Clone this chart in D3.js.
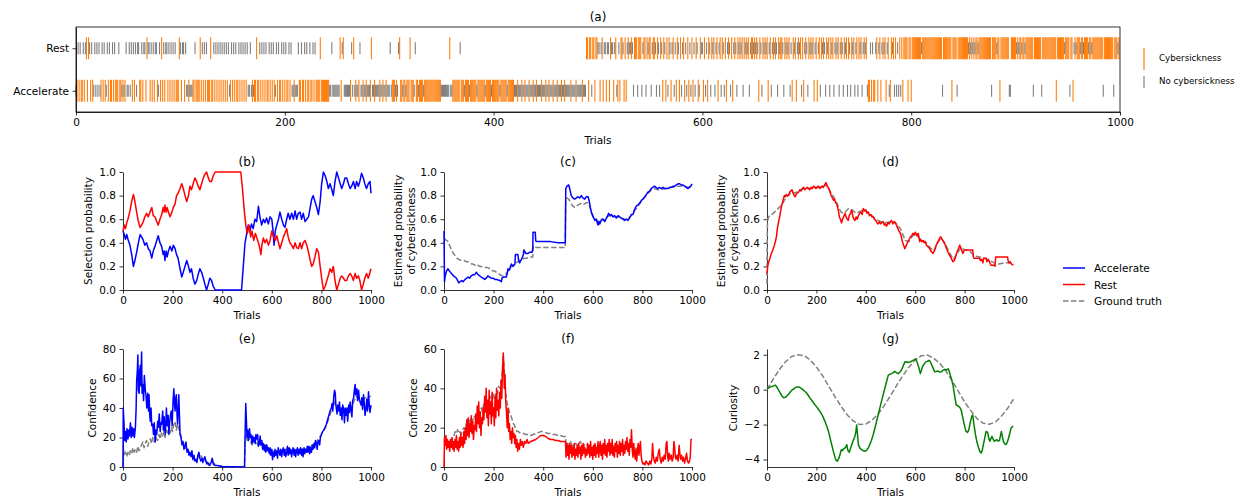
<!DOCTYPE html>
<html lang="en">
<head>
<meta charset="UTF-8">
<title>Cybersickness bandit</title>
<script src="https://cdn.jsdelivr.net/npm/d3@7"></script>
<style>
  body { margin: 0; background: #fff; }
  svg { display: block; }
</style>
</head>
<body>
<script>
// ---------- data ----------
const trialTicks = [0, 200, 400, 600, 800, 1000];
const rows = ["Rest", "Accelerate"];

// one char per trial: R/r = Rest (cybersickness / none), A/a = Accelerate (cybersickness / none)
const trialOutcomes = [
  "aArArAArAr RARrArAara raraArArAa rArAArArAA ArAAaAaAra",
  "ararArArar rAArArrARr rArArArrAa rARArArrAr ArArArAAAR",
  "rArrAraaAa aaAArAAAAR ArArArAAAR AArArArArA rArArAraAr",
  "ArArAArArA rArAraaraA aAARAArArA rArAArArAr AarArAArAr",
  "ArAArAraaA aaarAArAAr ArAArAArAr AAAARAAAAA AAAaaraaaa",
  "aaaRArRaaa aaaAraRaAa aAraaAaaAa aaARaaAaaa aAaaAaaAaa",
  "araAAAaAar RAAaAAaAAA RAAAarAAaA AAAaAAAAAA AAAAAAAAAA",
  "aaaaaaaaRa aAAAAAAArA AAaAAAAaAA AAAAaAAAAA AAaAAAAAaA",
  "AAAAAAaAAA AAAaAAAAAA aaaAaaaAaa AaaaAaaaAa aAaaaaAaaa",
  "AaaAaaaAaa aAaaaAaaAa aaaaAaaaaA aaaaaAaaaR RARRaRRARR",
  "rrArRArrAr rARrrArRaA rARRrARArR rrRraRRRaR RRarRRaRrR",
  "RarRRraRra RrARrARaRr ArRarARrAR arRAraRAra RAraRrAaRr",
  "rARarARraR rRarRArRaR raRArRraRA rRraRrRrRa RrRrRarRRr",
  "RrRrARraRr RrRArRarRr RraRrRRraR rRrRarARrR ArRrRaRArR",
  "raRrRrRArR ArRaRrRraR rRaRrRarRr RarRraRrRa RraRrRarRa",
  "RrRarRrRaA ArArAArRAr RArRrRArRa ARrRaRaraR aRARRRRARR",
  "ARRRRRRRRR rRRRRRRRRR RRRRRRRRRR aRRRRRRRRA RRRRaRRRRR",
  "RRRRRrRrRr RrRRrRRRRR RRRRRRRaRR RRrRRARRRR RRRRaaRRRR",
  "RrRrRRrRRr RRRRRRRaRR RRRRRaRRRR RRRRRRRRRA RRRRRRRrRR",
  "RRaRRArRrR RRrRRrRRRR rRRrRRRRRR RRRRaRRRRR RRRRaRRRrR"
];

// (b) selection probability
const bAccel = [[0,.5],[5,.47],[10,.43],[15,.47],[20,.43],[28,.38],[35,.3],[42,.2],[48,.25],[55,.32],[62,.4],[69,.47],[75,.45],[82,.42],[88,.38],[95,.4],[102,.35],[109,.33],[116,.27],[122,.33],[129,.37],[136,.42],[142,.46],[149,.4],[156,.37],[162,.3],[166,.33],[169,.25],[174,.33],[178,.28],[183,.33],[190,.37],[197,.33],[203,.38],[210,.35],[216,.3],[222,.27],[230,.18],[237,.11],[243,.15],[250,.2],[257,.25],[264,.2],[270,.15],[276,.18],[283,.1],[290,.05],[297,.08],[303,.13],[310,.18],[317,.15],[324,.1],[330,.05],[337,0],[344,.05],[350,.1],[357,.08],[364,.03],[372,0],[478,0],[485,.2],[492,.4],[499,.48],[505,.55],[512,.5],[518,.56],[525,.52],[532,.6],[539,.58],[546,.71],[552,.62],[559,.55],[566,.6],[572,.57],[579,.61],[586,.56],[593,.62],[600,.6],[605,.5],[609,.38],[614,.5],[620,.55],[627,.6],[633,.66],[640,.6],[647,.55],[653,.53],[660,.6],[666,.65],[673,.6],[680,.65],[687,.6],[694,.67],[700,.6],[707,.65],[714,.66],[720,.6],[727,.65],[734,.58],[741,.6],[748,.62],[755,.7],[761,.77],[767,.8],[774,.75],[781,.7],[788,.64],[795,.75],[801,.9],[808,1],[815,.97],[822,.92],[828,.86],[835,.9],[842,.85],[848,.8],[855,.92],[862,1],[869,.95],[876,.9],[882,.86],[889,.9],[895,.95],[902,.95],[909,.9],[916,.86],[922,.88],[929,.92],[936,.86],[942,.92],[949,.88],[955,.92],[962,.99],[969,.95],[975,.9],[982,.86],[989,.9],[996,.92],[1000,.82]];
const bRest = [[0,.5],[5,.55],[10,.52],[15,.57],[20,.6],[28,.67],[35,.75],[42,.81],[48,.75],[55,.66],[62,.58],[69,.53],[75,.55],[82,.58],[88,.62],[95,.65],[102,.62],[109,.66],[116,.7],[122,.63],[129,.62],[136,.58],[142,.55],[149,.6],[156,.64],[162,.7],[166,.66],[169,.72],[174,.66],[178,.7],[183,.66],[190,.62],[197,.66],[203,.7],[210,.73],[216,.8],[222,.82],[230,.86],[237,.9],[243,.86],[250,.8],[257,.75],[264,.8],[270,.88],[276,.85],[283,.9],[290,.95],[297,.92],[303,.88],[310,.85],[317,.9],[324,.95],[330,.98],[337,1],[344,.95],[350,.92],[357,.92],[364,.97],[372,1],[475,1],[482,.85],[490,.65],[497,.52],[502,.48],[508,.55],[515,.45],[520,.5],[527,.42],[534,.48],[540,.44],[546,.4],[552,.35],[556,.3],[560,.38],[566,.44],[572,.4],[579,.43],[586,.38],[593,.42],[600,.5],[607,.45],[614,.42],[620,.46],[627,.4],[633,.35],[640,.4],[647,.45],[653,.48],[660,.52],[666,.45],[673,.4],[680,.38],[687,.35],[694,.4],[700,.36],[707,.35],[714,.4],[720,.35],[727,.4],[734,.42],[741,.38],[748,.32],[755,.25],[761,.2],[767,.22],[774,.28],[781,.35],[788,.32],[795,.2],[801,.1],[808,0],[815,.03],[822,.08],[828,.12],[835,.18],[842,.15],[848,.2],[855,.08],[862,0],[869,.05],[876,.1],[882,.12],[889,.1],[895,.08],[902,.08],[909,.12],[916,.14],[922,.12],[929,.08],[936,.14],[942,.1],[949,.12],[955,.08],[962,0],[969,.05],[975,.1],[982,.14],[989,.1],[996,.15],[1000,.18]];

// (c) estimated probability, Accelerate
const cAccel = [[0,.5],[2,.07],[5,.12],[10,.16],[16,.18],[22,.16],[30,.14],[38,.12],[45,.11],[50,.1],[55,.08],[59,.06],[65,.07],[72,.08],[77,.07],[85,.09],[92,.1],[97,.11],[104,.1],[110,.12],[117,.13],[124,.13],[130,.15],[137,.13],[144,.12],[150,.11],[157,.1],[164,.09],[170,.1],[177,.12],[184,.11],[191,.1],[198,.1],[205,.09],[212,.09],[218,.085],[225,.08],[231,.07],[234,.1],[240,.11],[251,.11],[255,.14],[258,.18],[264,.17],[268,.2],[272,.22],[278,.2],[282,.21],[286,.22],[288,.3],[298,.3],[301,.25],[305,.23],[310,.25],[315,.27],[320,.3],[322,.34],[325,.33],[330,.31],[339,.31],[345,.32],[355,.32],[358,.35],[359,.49],[368,.49],[370,.42],[372,.41],[406,.41],[430,.41],[460,.4],[487,.4],[489,.4],[491,.86],[496,.88],[503,.89],[508,.85],[513,.8],[520,.78],[527,.77],[534,.78],[540,.79],[547,.78],[554,.8],[560,.78],[567,.77],[574,.79],[581,.79],[586,.75],[590,.7],[594,.66],[600,.63],[608,.59],[614,.6],[618,.57],[621,.55],[625,.58],[628,.56],[634,.59],[641,.6],[648,.58],[655,.61],[660,.63],[664,.65],[670,.63],[675,.64],[681,.62],[688,.63],[695,.61],[702,.63],[708,.62],[715,.61],[722,.6],[728,.59],[735,.6],[742,.59],[748,.61],[755,.64],[762,.64],[768,.68],[775,.71],[782,.72],[790,.74],[796,.76],[802,.77],[810,.79],[816,.81],[823,.83],[830,.84],[836,.86],[842,.87],[849,.88],[855,.87],[862,.86],[869,.87],[876,.86],[883,.87],[890,.86],[897,.86],[903,.86],[910,.87],[917,.87],[924,.88],[930,.88],[937,.89],[944,.9],[950,.9],[957,.89],[964,.89],[970,.88],[977,.87],[984,.86],[990,.87],[995,.88],[1000,.9]];
const cTruth = [[0,.44],[5,.43],[10,.42],[16,.41],[22,.38],[30,.34],[38,.31],[45,.29],[52,.27],[59,.26],[70,.25],[80,.25],[90,.24],[97,.24],[105,.23],[112,.22],[117,.22],[124,.21],[130,.22],[136,.21],[144,.2],[150,.2],[160,.19],[170,.19],[177,.19],[185,.18],[192,.17],[198,.16],[205,.16],[212,.15],[218,.14],[226,.13],[232,.12],[238,.12],[245,.13],[251,.14],[258,.16],[265,.18],[272,.2],[280,.21],[290,.23],[298,.24],[305,.25],[315,.26],[325,.27],[335,.27],[345,.28],[355,.28],[358,.28],[359,.37],[365,.37],[372,.36],[400,.36],[440,.36],[487,.36],[489,.36],[491,.76],[496,.78],[503,.77],[508,.75],[513,.73],[520,.71],[527,.7],[534,.71],[540,.72],[547,.73],[554,.73],[560,.72],[567,.73],[574,.74],[581,.74],[586,.72],[590,.69],[594,.66],[600,.62],[608,.6],[614,.6],[621,.58],[628,.58],[634,.6],[641,.6],[648,.59],[655,.61],[664,.63],[675,.63],[688,.62],[702,.62],[715,.61],[728,.6],[742,.6],[755,.63],[768,.67],[782,.71],[796,.75],[810,.79],[823,.82],[836,.85],[849,.86],[862,.85],[876,.85],[890,.86],[903,.86],[917,.87],[930,.87],[944,.88],[957,.88],[970,.88],[984,.87],[1000,.89]];

// (d) estimated probability, Rest
const dRest = [[0,.14],[3,.2],[7,.24],[12,.27],[16,.3],[20,.32],[25,.35],[30,.38],[34,.41],[38,.45],[42,.52],[47,.58],[52,.63],[56,.68],[60,.72],[65,.76],[70,.8],[74,.79],[78,.81],[82,.8],[87,.8],[92,.83],[97,.84],[101,.85],[106,.82],[110,.8],[114,.79],[118,.81],[122,.82],[128,.83],[133,.85],[138,.84],[143,.86],[148,.87],[153,.85],[158,.86],[163,.87],[168,.86],[173,.85],[178,.87],[183,.86],[188,.88],[193,.87],[198,.86],[203,.87],[208,.88],[213,.86],[218,.87],[223,.88],[228,.87],[233,.89],[239,.91],[244,.88],[250,.86],[255,.83],[260,.8],[265,.78],[269,.76],[273,.77],[278,.74],[282,.73],[286,.7],[290,.66],[293,.62],[297,.6],[302,.57],[306,.6],[310,.62],[316,.65],[320,.62],[325,.6],[329,.59],[333,.63],[338,.65],[343,.68],[348,.62],[352,.6],[356,.59],[361,.62],[365,.6],[370,.63],[375,.65],[380,.66],[385,.64],[390,.69],[395,.67],[400,.68],[405,.65],[410,.66],[415,.63],[420,.64],[425,.62],[430,.62],[435,.6],[440,.59],[445,.57],[450,.56],[455,.58],[460,.56],[465,.57],[470,.58],[475,.55],[480,.56],[484,.54],[490,.57],[495,.56],[500,.58],[504,.59],[510,.56],[515,.58],[520,.57],[524,.55],[530,.52],[534,.5],[538,.49],[543,.46],[548,.41],[553,.38],[558,.35],[562,.37],[566,.39],[571,.41],[576,.43],[581,.45],[586,.46],[591,.48],[596,.47],[601,.49],[606,.46],[612,.48],[615,.45],[618,.41],[622,.43],[627,.41],[632,.42],[636,.4],[641,.41],[645,.38],[650,.37],[655,.36],[659,.35],[663,.33],[668,.32],[672,.31],[677,.33],[681,.35],[685,.38],[690,.4],[695,.42],[699,.44],[704,.45],[708,.43],[712,.42],[717,.4],[722,.38],[727,.35],[733,.32],[738,.3],[743,.28],[748,.26],[753,.24],[758,.25],[762,.27],[766,.3],[771,.33],[775,.35],[780,.38],[784,.36],[788,.34],[793,.31],[797,.33],[802,.34],[806,.34],[833,.34],[835,.28],[838,.27],[860,.27],[864,.25],[868,.26],[874,.23],[877,.27],[887,.27],[890,.24],[896,.26],[900,.24],[907,.21],[921,.21],[923,.2],[926,.28],[974,.28],[976,.25],[980,.23],[984,.24],[990,.22],[997,.21]];
const dTruth = [[0,.05],[1,.45],[2,.58],[5,.61],[10,.63],[20,.64],[30,.66],[40,.68],[50,.7],[60,.72],[70,.76],[80,.79],[90,.81],[100,.83],[110,.82],[120,.83],[130,.84],[140,.85],[150,.86],[160,.86],[170,.86],[180,.86],[190,.87],[200,.87],[210,.87],[220,.87],[230,.88],[240,.89],[250,.86],[260,.82],[270,.79],[280,.75],[290,.7],[300,.66],[310,.65],[320,.67],[330,.69],[340,.68],[350,.67],[360,.65],[370,.66],[380,.67],[390,.68],[400,.67],[420,.64],[440,.6],[460,.58],[480,.57],[500,.58],[520,.57],[540,.52],[560,.42],[575,.41],[590,.46],[605,.47],[620,.43],[640,.41],[660,.36],[675,.33],[690,.4],[705,.44],[720,.4],[740,.31],[755,.26],[770,.31],[785,.36],[800,.34],[820,.33],[840,.29],[860,.28],[880,.27],[900,.25],[920,.23],[940,.22],[960,.23],[980,.23],[1000,.22]];

// (e) confidence, Accelerate
const eAccel = [[0,0],[1,40],[4,30],[7,18],[10,24],[13,17],[16,26],[20,19],[23,25],[26,21],[30,30],[33,20],[36,27],[40,21],[43,26],[46,20],[50,27],[53,40],[55,58],[58,66],[60,76],[62,52],[65,50],[67,65],[70,69],[72,55],[75,78],[77,50],[80,56],[83,45],[86,62],[90,52],[93,48],[96,40],[100,50],[103,38],[105,49],[108,35],[110,31],[113,40],[116,28],[120,29],[123,22],[126,30],[130,17],[133,25],[136,22],[140,31],[143,27],[146,36],[150,24],[153,30],[156,29],[160,38],[163,25],[166,34],[170,22],[173,30],[175,40],[178,28],[182,35],[185,22],[188,30],[192,36],[195,38],[198,28],[202,45],[205,53],[208,42],[210,38],[213,47],[215,49],[218,35],[220,29],[223,40],[225,49],[228,33],[230,22],[234,20],[238,15],[242,17],[246,12],[250,14],[254,17],[258,10],[262,12],[266,8],[270,10],[274,7],[278,11],[282,5],[286,8],[290,4],[294,5],[298,3],[302,8],[306,10],[310,6],[314,4],[318,6],[322,3],[326,5],[330,7],[334,4],[338,2],[342,3],[346,1.5],[350,1],[355,3],[360,6],[364,2],[368,1.5],[372,1],[380,1],[390,.6],[400,.4],[420,.2],[450,.1],[490,0],[492,20],[495,43],[498,30],[500,20],[503,25],[506,18],[510,26],[513,20],[516,22],[520,16],[523,21],[526,17],[530,20],[533,16],[536,22],[540,19],[543,22],[546,14],[550,16],[553,21],[556,15],[560,18],[563,12],[566,16],[570,11],[573,15],[576,10],[580,15],[583,11],[586,13],[590,9],[593,13],[596,8],[600,12],[603,5],[606,10],[610,7],[613,12],[616,8],[620,11],[623,6],[626,13],[630,10],[633,8],[636,12],[640,7],[643,11],[646,13],[650,8],[653,12],[656,7],[660,10],[663,14],[666,8],[670,13],[673,9],[676,12],[680,7],[683,11],[686,13],[690,8],[693,12],[696,7],[700,11],[703,13],[706,8],[710,12],[713,9],[716,13],[720,8],[723,12],[726,7],[730,13],[733,9],[736,12],[740,10],[743,14],[746,10],[750,14],[753,9],[756,13],[760,10],[763,15],[766,12],[770,16],[773,13],[776,18],[780,16],[783,12],[786,17],[790,18],[793,15],[796,20],[800,22],[805,24],[810,25],[815,27],[820,29],[825,32],[830,35],[835,38],[840,40],[843,43],[846,38],[850,48],[853,52],[856,50],[858,43],[860,40],[863,36],[866,42],[870,38],[873,44],[876,35],[880,40],[883,32],[886,42],[890,39],[893,30],[896,40],[900,35],[903,40],[906,31],[910,42],[913,37],[916,44],[920,38],[923,34],[926,45],[930,47],[933,52],[936,56],[938,49],[940,51],[943,53],[946,45],[950,52],[953,46],[956,44],[960,42],[963,47],[966,39],[970,49],[973,43],[976,35],[980,40],[983,46],[986,38],[990,51],[993,42],[996,37],[1000,42]];
const eTruth = [[0,0],[2,12],[5,8],[10,10],[15,7],[20,10],[25,8],[30,11],[35,9],[40,13],[45,10],[50,12],[55,10],[60,14],[65,11],[70,13],[75,15],[80,17],[85,13],[90,16],[95,18],[100,14],[105,17],[110,19],[115,16],[120,20],[125,17],[130,21],[135,19],[140,18],[145,22],[150,19],[155,23],[160,21],[165,24],[170,20],[175,25],[180,22],[185,26],[190,23],[195,27],[200,24],[205,29],[210,31],[215,25],[220,29],[225,26],[230,24],[235,20],[240,18],[245,16],[250,13],[260,12],[270,10],[280,8],[290,6],[300,6],[310,9],[320,6],[330,5],[340,3],[350,2],[360,4],[370,2],[380,1],[400,.5],[450,.1],[490,0],[493,18],[497,22],[500,18],[510,19],[520,15],[530,17],[540,16],[550,14],[560,15],[570,12],[580,13],[590,10],[600,11],[620,10],[640,11],[660,12],[680,12],[700,11],[720,12],[740,12],[760,14],[780,17],[800,22],[820,28],[840,38],[850,45],[860,40],[880,38],[900,36],[920,40],[940,48],[960,45],[980,47],[1000,48]];

// (f) confidence, Rest
const fRest = [[0,0],[2,15],[5,11],[8,16],[11,9],[14,14],[17,10],[20,13],[23,8],[26,14],[29,10],[32,15],[35,9],[38,13],[41,8],[44,14],[47,10],[50,16],[53,9],[56,13],[59,8],[62,15],[65,10],[68,17],[71,11],[74,15],[77,10],[80,18],[83,12],[86,20],[89,14],[92,24],[95,16],[98,25],[101,15],[104,22],[107,18],[110,26],[113,17],[116,23],[119,14],[122,21],[125,19],[128,27],[131,18],[134,31],[137,22],[140,33],[143,20],[146,28],[149,16],[152,25],[155,22],[158,30],[161,24],[164,36],[167,28],[170,40],[173,25],[176,34],[179,21],[182,39],[185,27],[188,33],[191,22],[194,38],[197,26],[200,30],[203,21],[206,36],[209,25],[212,40],[215,29],[218,34],[221,26],[224,38],[227,30],[230,44],[233,35],[236,50],[239,58],[241,52],[243,40],[246,47],[249,33],[252,28],[255,20],[258,30],[261,18],[264,22],[267,14],[270,18],[273,12],[276,20],[279,15],[282,17],[285,12],[288,16],[291,10],[294,14],[297,8],[300,12],[304,9],[308,14],[312,11],[316,13],[320,10],[325,13],[330,12],[335,14],[340,12],[350,13],[360,13.5],[370,14],[380,15],[390,16],[400,16],[410,15.5],[420,14.5],[430,14],[440,14],[450,13.5],[460,13.5],[470,13],[480,13],[490,13],[492,5],[495,12],[498,6],[501,11],[504,4],[507,12],[510,7],[513,11],[516,5],[519,10],[522,6],[525,12],[528,4],[531,9],[534,6],[537,11],[540,5],[543,12],[546,7],[549,10],[552,4],[555,11],[558,6],[561,12],[564,7],[567,10],[570,5],[573,9],[576,6],[579,12],[582,7],[585,11],[588,5],[591,13],[594,6],[597,10],[600,4],[603,11],[606,6],[609,12],[612,5],[615,10],[618,7],[621,13],[624,5],[627,9],[630,13],[633,6],[636,11],[639,4],[642,12],[645,7],[648,14],[651,6],[654,11],[657,5],[660,12],[663,8],[666,14],[669,6],[672,12],[675,7],[678,14],[681,6],[684,10],[687,5],[690,12],[693,8],[696,13],[699,5],[702,11],[705,7],[708,13],[711,6],[714,12],[717,8],[720,14],[723,6],[726,11],[729,7],[732,13],[735,9],[738,15],[741,8],[744,12],[747,6],[750,14],[753,10],[756,19],[759,9],[762,5],[765,12],[768,7],[771,4],[774,9],[777,3],[780,8],[783,12],[786,6],[789,10],[792,13],[795,6],[798,3],[802,1.5],[806,2],[810,1],[815,3],[820,2],[825,1],[830,3],[834,1.5],[838,4],[841,12],[844,6],[848,3],[852,2],[856,5],[860,3],[864,7],[868,9],[872,4],[876,2],[880,5],[884,3],[888,6],[892,4],[896,12],[899,13],[902,5],[905,3],[908,7],[912,4],[916,6],[920,3],[924,5],[927,13],[930,10],[933,5],[936,4],[940,6],[944,3],[948,11],[951,7],[954,4],[958,6],[962,3],[966,5],[970,2],[974,4],[978,7],[982,3],[986,2],[990,3],[993,5],[996,14],[1000,14]];
const fTruth = [[0,13],[5,12],[10,14],[15,12],[20,13],[25,14],[30,13],[35,15],[40,16],[45,18],[50,17],[55,19],[60,17],[65,18],[70,17],[75,19],[80,20],[85,19],[90,22],[95,21],[100,24],[105,22],[110,25],[115,23],[120,26],[125,25],[130,27],[135,26],[140,29],[145,27],[150,30],[155,28],[160,32],[165,30],[170,33],[175,31],[180,34],[185,33],[190,36],[195,34],[200,37],[205,35],[210,38],[215,37],[220,41],[225,40],[230,43],[235,48],[239,56],[242,50],[246,42],[250,36],[255,32],[260,30],[265,27],[270,26],[275,24],[280,22],[285,21],[290,19],[295,18],[300,18],[310,17],[320,17],[330,16.5],[340,16.5],[350,16],[360,16.5],[370,17],[380,17.5],[390,18],[400,18],[410,17.5],[420,17],[430,17],[440,16.5],[450,16.5],[460,16],[470,16],[480,15.5],[490,15.5],[493,10],[500,12],[510,13],[520,10],[530,12],[540,11],[550,13],[560,10],[570,12],[580,11],[590,10],[600,9],[610,11],[620,10],[630,12],[640,10],[650,11],[660,10],[670,12],[680,11],[690,10],[700,11],[710,12],[720,11],[730,12],[740,11],[750,13],[760,12],[770,10],[780,9]];

// (g) curiosity
const gCuriosity = [[0,.07],[7,.1],[13,.16],[20,.18],[27,.22],[34,.26],[40,.15],[47,-.03],[54,-.2],[60,-.35],[67,-.46],[74,-.44],[81,-.35],[88,-.25],[95,-.12],[101,-.03],[108,.05],[115,.12],[121,.16],[128,.15],[134,.12],[141,.05],[148,-.03],[155,-.12],[162,-.22],[168,-.35],[175,-.5],[182,-.62],[188,-.75],[195,-.88],[202,-1],[208,-1.12],[215,-1.26],[222,-1.42],[228,-1.6],[235,-1.83],[242,-2.1],[249,-2.39],[255,-2.75],[262,-3.15],[269,-3.55],[276,-3.91],[280,-4.05],[285,-4.1],[290,-3.95],[296,-3.72],[299,-3.5],[302,-3.44],[306,-3.5],[310,-3.38],[316,-3.34],[320,-3.25],[323,-3.15],[326,-3.4],[329,-3.53],[333,-3.58],[337,-3.42],[343,-3.15],[348,-2.95],[352,-2.8],[356,-2.68],[360,-2.4],[363,-2.02],[366,-2.5],[370,-3.15],[376,-3.35],[383,-3.44],[390,-3.5],[396,-3.53],[403,-3.48],[410,-3.34],[416,-3.15],[423,-2.9],[430,-2.58],[436,-2.25],[443,-1.85],[450,-1.45],[456,-1.1],[463,-.7],[470,-.31],[477,.08],[484,.45],[491,.83],[497,.88],[504,.92],[510,.96],[517,1.05],[524,.98],[531,.92],[537,1],[544,1.11],[551,1.35],[558,1.58],[565,1.6],[571,1.56],[578,1.58],[585,1.63],[591,1.68],[597,1.72],[602,1.77],[607,1.6],[612,1.39],[617,1.15],[621,.92],[625,1.1],[629,1.3],[635,1.45],[642,1.58],[649,1.62],[656,1.68],[661,1.6],[665,1.49],[672,1.25],[679,1.02],[685,1.04],[692,1.07],[699,1],[706,1.02],[712,1.1],[719,1.17],[726,1.12],[733,1.2],[738,1.05],[742,.83],[748,.55],[753,.26],[758,-.2],[762,-.55],[766,-.88],[772,-.92],[777,-.97],[782,-1.05],[786,-1.16],[791,-1.5],[796,-1.83],[801,-2.15],[806,-2.39],[812,-2.45],[817,-2.3],[822,-1.95],[827,-1.64],[830,-1.5],[833,-1.45],[838,-2],[844,-2.58],[850,-3],[857,-3.34],[862,-3.55],[867,-3.62],[872,-3.45],[876,-3.15],[881,-2.8],[887,-2.39],[891,-2.42],[894,-2.49],[898,-2.8],[902,-2.96],[906,-2.82],[911,-2.68],[916,-2.85],[921,-2.96],[926,-2.9],[931,-2.86],[936,-2.95],[941,-2.92],[945,-2.65],[949,-2.39],[953,-2.7],[957,-2.96],[962,-3.1],[968,-3.15],[973,-3],[978,-2.77],[983,-2.5],[988,-2.2],[993,-2.12],[997,-2.1]];
const gTruth = [[0,0],[25,.6],[50,1.15],[75,1.6],[100,1.9],[125,2],[150,1.95],[175,1.7],[200,1.3],[225,.8],[250,.2],[275,-.4],[300,-.95],[325,-1.45],[350,-1.8],[375,-2],[400,-1.97],[425,-1.75],[450,-1.4],[475,-.9],[500,-.35],[525,.25],[550,.8],[575,1.3],[600,1.7],[625,1.95],[650,1.98],[675,1.8],[700,1.5],[725,1.05],[750,.5],[775,-.1],[800,-.7],[825,-1.2],[850,-1.65],[875,-1.92],[900,-1.98],[925,-1.85],[950,-1.5],[975,-1.05],[1000,-.5]];

// ---------- drawing ----------
const FONT = "DejaVu Sans";
const FS = 10.5;
const TITLE_FS = 12;
const ORANGE = "#ff7f0e", GRAY = "#808080";
const DASH = "5.5,2.4";

const svg = d3.select("body").append("svg")
  .attr("width", 1242).attr("height", 498)
  .attr("font-family", FONT);

function styleAxis(g) {
  g.attr("font-family", FONT).attr("font-size", FS);
  g.select(".domain").attr("stroke-width", 0.8);
  g.selectAll(".tick line").attr("stroke-width", 0.8);
  g.selectAll(".tick text").attr("fill", "#000");
}

function label(x, y, txt, opts = {}) {
  const t = svg.append("text")
    .attr("x", x).attr("y", y)
    .attr("text-anchor", opts.anchor || "middle")
    .attr("font-size", opts.size || FS)
    .text(txt);
  if (opts.rotate) t.attr("transform", `rotate(-90,${x},${y})`);
  return t;
}

const trialFmt = d3.format("d");

// ----- (a) event plot -----
const xA = d3.scaleLinear().domain([0, 1000]).range([76, 1120]);
const yA = d3.scalePoint().domain(rows).range([27, 112]).padding(0.5);

const events = [];
trialOutcomes.join("").replace(/\s/g, "").split("").forEach((c, i) => {
  events.push({
    trial: i,
    row: c.toLowerCase() === "r" ? "Rest" : "Accelerate",
    sick: c === c.toUpperCase()
  });
});

svg.append("g").selectAll("line")
  .data(events.filter(d => d.sick))
  .join("line")
  .attr("x1", d => xA(d.trial)).attr("x2", d => xA(d.trial))
  .attr("y1", d => yA(d.row) - 11).attr("y2", d => yA(d.row) + 11)
  .attr("stroke", ORANGE).attr("stroke-width", 1.1);

svg.append("g").selectAll("line")
  .data(events.filter(d => !d.sick))
  .join("line")
  .attr("x1", d => xA(d.trial)).attr("x2", d => xA(d.trial))
  .attr("y1", d => yA(d.row) - 6).attr("y2", d => yA(d.row) + 6)
  .attr("stroke", GRAY).attr("stroke-width", 1.1);

svg.append("rect")
  .attr("x", 76).attr("y", 27).attr("width", 1044).attr("height", 85)
  .attr("fill", "none").attr("stroke", "#000").attr("stroke-width", 0.8);

svg.append("g").attr("transform", "translate(0,112)")
  .call(d3.axisBottom(xA).tickValues(trialTicks).tickFormat(trialFmt).tickSize(3.5).tickPadding(3.5).tickSizeOuter(0))
  .call(styleAxis);
svg.append("g").attr("transform", "translate(76,0)")
  .call(d3.axisLeft(yA).tickSize(3.5).tickPadding(3.5).tickSizeOuter(0))
  .call(styleAxis);

label(598, 21, "(a)", { size: TITLE_FS });
label(598, 144, "Trials");

// legend for (a)
svg.append("line").attr("x1", 1144).attr("x2", 1144).attr("y1", 48).attr("y2", 70)
  .attr("stroke", ORANGE).attr("stroke-width", 1.2);
svg.append("line").attr("x1", 1144).attr("x2", 1144).attr("y1", 76).attr("y2", 88)
  .attr("stroke", GRAY).attr("stroke-width", 1.2);
label(1159, 61, "Cybersickness", { anchor: "start", size: 8.7 });
label(1159, 84, "No cybersickness", { anchor: "start", size: 8.7 });

// ----- line panels -----
function panel(p) {
  const x = d3.scaleLinear().domain([0, 1000]).range([p.left, p.right]);
  const y = d3.scaleLinear().domain(p.yDomain).range([p.bottom, p.top]);

  svg.append("g").attr("transform", `translate(0,${p.bottom})`)
    .call(d3.axisBottom(x).tickValues(trialTicks).tickFormat(trialFmt).tickSize(3.5).tickPadding(3.5).tickSizeOuter(0))
    .call(styleAxis);
  svg.append("g").attr("transform", `translate(${p.left},0)`)
    .call(d3.axisLeft(y).tickValues(p.yTicks).tickFormat(p.fmt).tickSize(3.5).tickPadding(3.5).tickSizeOuter(0))
    .call(styleAxis);

  const line = d3.line().x(d => x(d[0])).y(d => y(d[1]));
  p.series.forEach(s => {
    svg.append("path").datum(s.data)
      .attr("d", line)
      .attr("fill", "none")
      .attr("stroke", s.color)
      .attr("stroke-width", 1.5)
      .attr("stroke-linejoin", "round")
      .attr("stroke-dasharray", s.dashed ? DASH : null);
  });

  const cx = (p.left + p.right) / 2;
  label(cx, p.top - 6.5, p.title, { size: TITLE_FS });
  label(cx, p.bottom + 29, "Trials");
  p.ylabel.forEach((t, i) => {
    const bx = p.labelX + i * 13;
    label(bx, (p.top + p.bottom) / 2, t, { rotate: true });
  });
}

const f1 = d3.format(".1f");
const fInt = d => (d < 0 ? "\u2212" + Math.abs(d) : String(d));
const probTicks = [0, 0.2, 0.4, 0.6, 0.8, 1.0];

panel({ left: 123, right: 371, top: 172, bottom: 290, yDomain: [0, 1], yTicks: probTicks, fmt: f1,
  title: "(b)", ylabel: ["Selection probability"], labelX: 92,
  series: [{ data: bAccel, color: "#0000ff" }, { data: bRest, color: "#ff0000" }] });

panel({ left: 444, right: 692, top: 172, bottom: 290, yDomain: [0, 1], yTicks: probTicks, fmt: f1,
  title: "(c)", ylabel: ["Estimated probability", "of cybersickness"], labelX: 402,
  series: [{ data: cTruth, color: GRAY, dashed: true }, { data: cAccel, color: "#0000ff" }] });

panel({ left: 767, right: 1014, top: 172, bottom: 290, yDomain: [0, 1], yTicks: probTicks, fmt: f1,
  title: "(d)", ylabel: ["Estimated probability", "of cybersickness"], labelX: 725,
  series: [{ data: dTruth, color: GRAY, dashed: true }, { data: dRest, color: "#ff0000" }] });

panel({ left: 123, right: 371, top: 349, bottom: 467, yDomain: [0, 80], yTicks: [0, 20, 40, 60, 80], fmt: fInt,
  title: "(e)", ylabel: ["Confidence"], labelX: 96,
  series: [{ data: eTruth, color: GRAY, dashed: true }, { data: eAccel, color: "#0000ff" }] });

panel({ left: 444, right: 692, top: 349, bottom: 467, yDomain: [0, 60], yTicks: [0, 20, 40, 60], fmt: fInt,
  title: "(f)", ylabel: ["Confidence"], labelX: 417,
  series: [{ data: fTruth, color: GRAY, dashed: true }, { data: fRest, color: "#ff0000" }] });

panel({ left: 767, right: 1014, top: 349, bottom: 467, yDomain: [-4.43, 2.33], yTicks: [-4, -2, 0, 2], fmt: fInt,
  title: "(g)", ylabel: ["Curiosity"], labelX: 737,
  series: [{ data: gTruth, color: GRAY, dashed: true }, { data: gCuriosity, color: "#008000" }] });

// shared legend
const legendItems = [
  { name: "Accelerate", color: "#0000ff" },
  { name: "Rest", color: "#ff0000" },
  { name: "Ground truth", color: GRAY, dashed: true }
];
legendItems.forEach((d, i) => {
  const yy = 268 + i * 16.5;
  svg.append("line").attr("x1", 1063).attr("x2", 1085).attr("y1", yy).attr("y2", yy)
    .attr("stroke", d.color).attr("stroke-width", 1.5)
    .attr("stroke-dasharray", d.dashed ? DASH : null);
  label(1094, yy + 4, d.name, { anchor: "start" });
});
</script>
</body>
</html>
